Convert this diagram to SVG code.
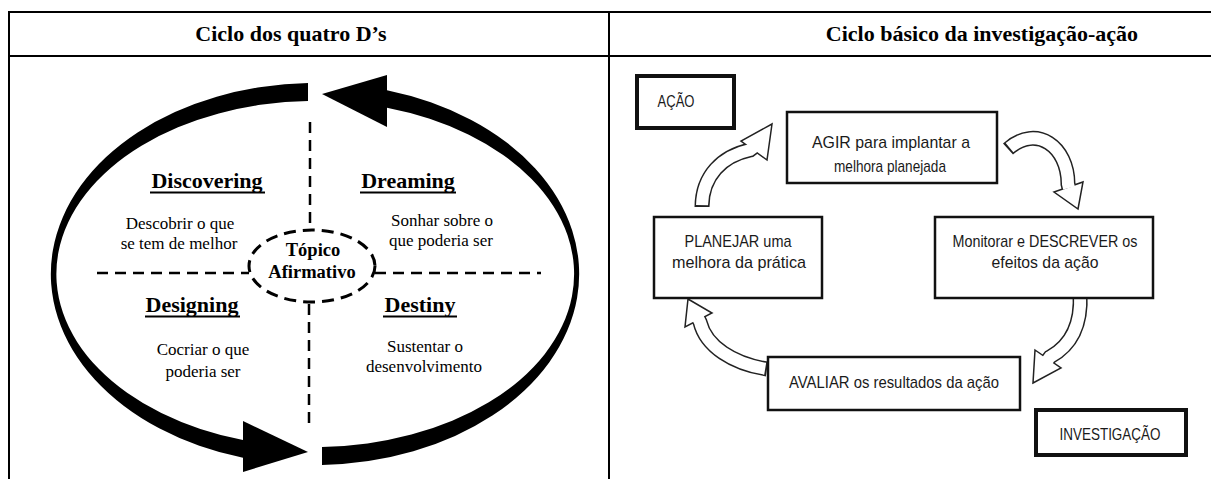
<svg xmlns="http://www.w3.org/2000/svg" width="1211" height="479" viewBox="0 0 1211 479">
<style>
.grid{stroke:#000;stroke-width:2;fill:none}
.hd{font-family:"Liberation Serif","Times New Roman",serif;font-weight:bold;font-size:22px;text-anchor:middle;fill:#000}
.ph{font-family:"Liberation Serif","Times New Roman",serif;font-weight:bold;font-size:22px;text-anchor:middle;fill:#000}
.bd{font-family:"Liberation Serif","Times New Roman",serif;font-size:17px;text-anchor:middle;fill:#000}
.tp{font-family:"Liberation Serif","Times New Roman",serif;font-weight:bold;font-size:18.5px;text-anchor:middle;fill:#000}
.dash{stroke:#000;stroke-width:2.5;fill:none;stroke-dasharray:11 7}
.ul{stroke:#000;stroke-width:1.8}
.box{fill:#fff;stroke:#111;stroke-width:2.5}
.tbox{fill:#fff;stroke:#111;stroke-width:4}
.rt{font-family:"Liberation Sans",Arial,sans-serif;font-size:17px;text-anchor:middle;fill:#1a1a1a}
.bk{fill:none;stroke:#222;stroke-width:15}
.wh{fill:none;stroke:#fff;stroke-width:12;stroke-dasharray:0 2 200}
.head{fill:#fff;stroke:#222;stroke-width:1.5;stroke-linejoin:miter}
</style>
<g id="table">
<line class="grid" x1="8" y1="12" x2="1211" y2="12"/>
<line class="grid" x1="8" y1="56" x2="1211" y2="56"/>
<line class="grid" x1="9" y1="11" x2="9" y2="479"/>
<line class="grid" x1="609" y1="11" x2="609" y2="479"/>
<text class="hd" x="291" y="41">Ciclo dos quatro D’s</text>
<text class="hd" x="982" y="41">Ciclo básico da investigação-ação</text>
</g>
<g id="left-cycle">
<g id="arrow-left">
<path d="M308,83.07 A264,191 0 0 0 243,457.8 L243,440.1 A259,173 0 0 1 308,101.06 Z" fill="#000"/>
<polygon points="308,452 243,421 243,472" fill="#000"/>
</g>
<g id="arrow-right">
<path d="M322,464.93 A264,191 0 0 0 387,90.2 L387,107.8 A259,173 0 0 1 322,446.94 Z" fill="#000"/>
<polygon points="322,94 387,75 387,127" fill="#000"/>
</g>
<g id="dividers">
<line class="dash" x1="310" y1="122" x2="310" y2="230"/>
<line class="dash" x1="309" y1="304" x2="309" y2="428"/>
<line class="dash" x1="97" y1="273" x2="249" y2="273"/>
<line class="dash" x1="375" y1="273" x2="541" y2="273"/>
</g>
<g id="topico">
<ellipse cx="312" cy="266" rx="63" ry="36" fill="#fff" stroke="#000" stroke-width="3" stroke-dasharray="12 7"/>
<text class="tp" x="313" y="256">Tópico</text>
<text class="tp" x="312" y="278">Afirmativo</text>
</g>
<g id="discovering">
<text class="ph" x="207" y="188">Discovering</text>
<line class="ul" x1="150" y1="192.5" x2="265" y2="192.5"/>
<text class="bd" x="180" y="229">Descobrir o que</text>
<text class="bd" x="179" y="249">se tem de melhor</text>
</g>
<g id="dreaming">
<text class="ph" x="408" y="188">Dreaming</text>
<line class="ul" x1="360" y1="192.5" x2="456" y2="192.5"/>
<text class="bd" x="442" y="226">Sonhar sobre o</text>
<text class="bd" x="441" y="246">que poderia ser</text>
</g>
<g id="designing">
<text class="ph" x="192" y="312">Designing</text>
<line class="ul" x1="145" y1="316.5" x2="240" y2="316.5"/>
<text class="bd" x="203" y="355">Cocriar o que</text>
<text class="bd" x="203" y="377">poderia ser</text>
</g>
<g id="destiny">
<text class="ph" x="420" y="312">Destiny</text>
<line class="ul" x1="383" y1="316.5" x2="457" y2="316.5"/>
<text class="bd" x="425" y="352">Sustentar o</text>
<text class="bd" x="424" y="372">desenvolvimento</text>
</g>
</g>
<g id="right-cycle">
<g id="connectors">
<g id="arrow-a">
<path class="bk" d="M702,207 C702,176 722,156 750,150 l4,-3"/>
<polygon class="head" points="772,124 767,160 741,141"/>
<path class="wh" pathLength="100" d="M702,207 C702,176 722,156 750,150 l4,-3"/>
</g>
<g id="arrow-b">
<path class="bk" d="M1008,149 C1036,124 1068,146 1068,184 l1,4"/>
<polygon class="head" points="1078,209 1083,182 1054,192"/>
<path class="wh" pathLength="100" d="M1008,149 C1036,124 1068,146 1068,184 l1,4"/>
</g>
<g id="arrow-c">
<path class="bk" d="M1080,293 C1082,326 1070,346 1050,357 l-3,4"/>
<polygon class="head" points="1033,383 1061,368 1035,350"/>
<path class="wh" pathLength="100" d="M1080,293 C1082,326 1070,346 1050,357 l-3,4"/>
</g>
<g id="arrow-d">
<path class="bk" d="M767,369 C734,364 706,347 700,322 l-2,-4"/>
<polygon class="head" points="688,299 712,313 685,327"/>
<path class="wh" pathLength="100" d="M767,369 C734,364 706,347 700,322 l-2,-4"/>
</g>
</g>
<g id="acao">
<rect class="tbox" x="637" y="76" width="97" height="52"/>
<text class="rt" x="676" y="107" textLength="37" lengthAdjust="spacingAndGlyphs">AÇÃO</text>
</g>
<g id="agir">
<rect class="box" x="787" y="112" width="210" height="71"/>
<text class="rt" x="891" y="148" textLength="158" lengthAdjust="spacingAndGlyphs">AGIR para implantar a</text>
<text class="rt" x="890" y="172" textLength="112" lengthAdjust="spacingAndGlyphs">melhora planejada</text>
</g>
<g id="planejar">
<rect class="box" x="654" y="217" width="168" height="81"/>
<text class="rt" x="738" y="247" textLength="107" lengthAdjust="spacingAndGlyphs">PLANEJAR uma</text>
<text class="rt" x="739" y="268" textLength="134" lengthAdjust="spacingAndGlyphs">melhora da prática</text>
</g>
<g id="monitorar">
<rect class="box" x="935" y="217" width="218" height="81"/>
<text class="rt" x="1045" y="247" textLength="185" lengthAdjust="spacingAndGlyphs">Monitorar e DESCREVER os</text>
<text class="rt" x="1045" y="268" textLength="107" lengthAdjust="spacingAndGlyphs">efeitos da ação</text>
</g>
<g id="avaliar">
<rect class="box" x="768" y="357" width="252" height="53"/>
<text class="rt" x="894" y="388" textLength="210" lengthAdjust="spacingAndGlyphs">AVALIAR os resultados da ação</text>
</g>
<g id="investigacao">
<rect class="tbox" x="1036" y="410" width="150" height="45"/>
<text class="rt" x="1110" y="440" textLength="101" lengthAdjust="spacingAndGlyphs">INVESTIGAÇÃO</text>
</g>
</g>
</svg>
